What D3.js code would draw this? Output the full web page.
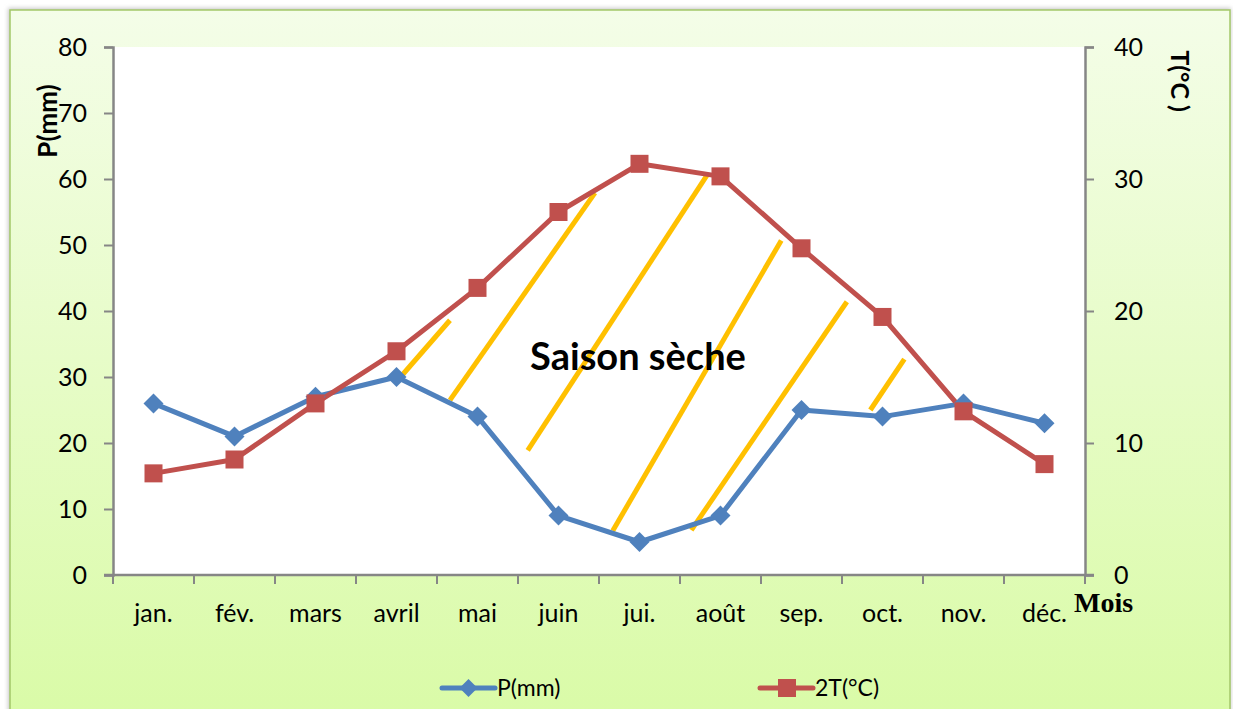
<!DOCTYPE html>
<html>
<head>
<meta charset="utf-8">
<script src="https://cdn.jsdelivr.net/npm/d3@7"></script>
<style>
  body { margin: 0; background: #ffffff; }
  text { font-family: Lato, "Open Sans", sans-serif; }
</style>
</head>
<body>
<div id="chart"></div>
<script>
// Months on the x axis.
const months = ["jan.", "fév.", "mars", "avril", "mai", "juin", "jui.", "août", "sep.", "oct.", "nov.", "déc."];
// Precipitation in mm (left axis).
const precipitation = [26, 21, 27, 30, 24, 9, 5, 9, 25, 24, 26, 23];
// Twice the temperature, plotted on the precipitation scale.
const doubleTemp = [15.4, 17.5, 26, 33.9, 43.5, 55, 62.3, 60.4, 49.5, 39.1, 24.8, 16.8];
// Tick values for both vertical axes.
const leftTicks = [0, 10, 20, 30, 40, 50, 60, 70, 80];
const rightTicks = [0, 10, 20, 30, 40];
// Dry season hatch lines: start and end as [monthIndex, P].
const hatchStart = [[3.05, 30.0], [3.66, 26.5], [4.62, 18.9], [5.67, 6.7], [6.64, 6.8], [8.85, 25.0]];
const hatchEnd = [[3.66, 38.6], [5.45, 57.9], [6.84, 60.7], [7.75, 50.7], [8.56, 41.4], [9.27, 32.7]];

/**
 * Layout.
 */
const width = 1233;
const height = 709;
const margin = { top: 47, right: 148, bottom: 134, left: 113 };
const plotW = width - margin.left - margin.right;
const plotH = height - margin.top - margin.bottom;

const svg = d3.select("#chart")
  .append("svg")
  .attr("width", width)
  .attr("height", height);

// Background gradient of the chart area.
const defs = svg.append("defs");
const grad = defs.append("linearGradient")
  .attr("id", "bg")
  .attr("x1", 0).attr("y1", 0).attr("x2", 0).attr("y2", 1);
grad.append("stop").attr("offset", "0%").attr("stop-color", "#f4fde8");
grad.append("stop").attr("offset", "100%").attr("stop-color", "#d9fba6");

const shadow = defs.append("filter").attr("id", "shadow");
shadow.append("feGaussianBlur").attr("stdDeviation", 2);

svg.append("rect")
  .attr("x", 8).attr("y", 8)
  .attr("width", 1223).attr("height", 720)
  .attr("fill", "#c8c8c8")
  .attr("filter", "url(#shadow)");

svg.append("rect")
  .attr("x", 10).attr("y", 10)
  .attr("width", 1220).attr("height", 720)
  .attr("fill", "url(#bg)")
  .attr("stroke", "#a3c768")
  .attr("stroke-width", 1.5);

// White plot area.
svg.append("rect")
  .attr("x", margin.left).attr("y", margin.top)
  .attr("width", plotW).attr("height", plotH)
  .attr("fill", "#ffffff");

/**
 * Scales.
 */
const x = d3.scaleBand()
  .domain(months)
  .range([margin.left, margin.left + plotW]);
const xIdx = (i) => margin.left + x.bandwidth() * (i + 0.5);

const y = d3.scaleLinear()
  .domain([0, 80])
  .range([margin.top + plotH, margin.top]);
const yRight = d3.scaleLinear()
  .domain([0, 40])
  .range([margin.top + plotH, margin.top]);

/**
 * Axes.
 */
const axisColor = "#868686";

const gLeft = svg.append("g")
  .attr("transform", `translate(${margin.left},0)`)
  .call(d3.axisLeft(y).tickValues(leftTicks).tickSize(9).tickPadding(17));

const gRight = svg.append("g")
  .attr("transform", `translate(${margin.left + plotW},0)`)
  .call(d3.axisRight(yRight).tickValues(rightTicks).tickSize(9).tickPadding(20));

const gBottom = svg.append("g")
  .attr("transform", `translate(0,${margin.top + plotH})`)
  .call(d3.axisBottom(x).tickSize(0).tickPadding(29));

// Category tick marks sit between the months.
gBottom.selectAll(".sep")
  .data(d3.range(months.length + 1))
  .join("line")
  .attr("class", "sep")
  .attr("x1", (i) => margin.left + i * x.bandwidth())
  .attr("x2", (i) => margin.left + i * x.bandwidth())
  .attr("y1", 0)
  .attr("y2", 9)
  .attr("stroke", axisColor)
  .attr("stroke-width", 2);

[gLeft, gRight, gBottom].forEach((g) => {
  g.select(".domain").attr("stroke", axisColor).attr("stroke-width", 2.5);
  g.selectAll(".tick line").attr("stroke", axisColor).attr("stroke-width", 2);
  g.selectAll(".tick text")
    .attr("fill", "#000")
    .attr("font-size", 25)
    .style("font-family", "Lato, 'Open Sans', sans-serif");
});
gBottom.select(".domain").attr("d", `M${margin.left - 9},0H${margin.left + plotW + 9}`);

// Axis titles.
svg.append("text")
  .attr("transform", "translate(57,121) rotate(-90)")
  .attr("text-anchor", "middle")
  .attr("font-size", 26)
  .attr("font-weight", "bold")
  .text("P(mm)");

svg.append("text")
  .attr("transform", "translate(1171,81) rotate(90)")
  .attr("text-anchor", "middle")
  .attr("font-size", 25)
  .attr("font-weight", "bold")
  .text("T(°C )");

svg.append("text")
  .attr("x", 1074)
  .attr("y", 612)
  .attr("font-size", 28)
  .attr("font-weight", "bold")
  .style("font-family", "'Liberation Serif', 'Times New Roman', serif")
  .text("Mois");

/**
 * Dry season hatching.
 */
svg.append("g")
  .selectAll("line")
  .data(hatchStart)
  .join("line")
  .attr("x1", (d) => xIdx(d[0]))
  .attr("y1", (d) => y(d[1]))
  .attr("x2", (d, i) => xIdx(hatchEnd[i][0]))
  .attr("y2", (d, i) => y(hatchEnd[i][1]))
  .attr("stroke", "#ffc000")
  .attr("stroke-width", 5);

/**
 * Series.
 */
const blue = "#4f81bd";
const red = "#c0504d";
const diamond = "M0,-10L10,0L0,10L-10,0Z";

const line = d3.line().x((d, i) => xIdx(i)).y((d) => y(d));

svg.append("path")
  .datum(precipitation)
  .attr("d", line)
  .attr("fill", "none")
  .attr("stroke", blue)
  .attr("stroke-width", 5)
  .attr("stroke-linejoin", "round");

svg.append("path")
  .datum(doubleTemp)
  .attr("d", line)
  .attr("fill", "none")
  .attr("stroke", red)
  .attr("stroke-width", 5)
  .attr("stroke-linejoin", "round");

svg.append("g")
  .selectAll("path")
  .data(precipitation)
  .join("path")
  .attr("transform", (d, i) => `translate(${xIdx(i)},${y(d)})`)
  .attr("d", diamond)
  .attr("fill", blue);

svg.append("g")
  .selectAll("rect")
  .data(doubleTemp)
  .join("rect")
  .attr("x", (d, i) => xIdx(i) - 9)
  .attr("y", (d) => y(d) - 9)
  .attr("width", 18)
  .attr("height", 18)
  .attr("fill", red);

// Annotation.
svg.append("text")
  .attr("x", 638)
  .attr("y", 370)
  .attr("text-anchor", "middle")
  .attr("font-size", 38)
  .attr("font-weight", "bold")
  .text("Saison sèche");

/**
 * Legend.
 */
const legend = [
  { name: "P(mm)", color: blue, x: 442, shape: "diamond" },
  { name: "2T(°C)", color: red, x: 760, shape: "square" },
];
const lg = svg.append("g")
  .selectAll("g")
  .data(legend)
  .join("g")
  .attr("transform", (d) => `translate(${d.x},688)`);
lg.append("line")
  .attr("x1", 0).attr("x2", 53)
  .attr("stroke", (d) => d.color)
  .attr("stroke-width", 5)
  .attr("stroke-linecap", "round");
lg.filter((d) => d.shape === "diamond")
  .append("path")
  .attr("transform", "translate(26.5,0)")
  .attr("d", "M0,-9L9,0L0,9L-9,0Z")
  .attr("fill", (d) => d.color);
lg.filter((d) => d.shape === "square")
  .append("rect")
  .attr("x", 18).attr("y", -9)
  .attr("width", 18).attr("height", 18)
  .attr("fill", (d) => d.color);
lg.append("text")
  .attr("x", 55)
  .attr("y", 8)
  .attr("font-size", 23)
  .text((d) => d.name);
</script>
</body>
</html>
